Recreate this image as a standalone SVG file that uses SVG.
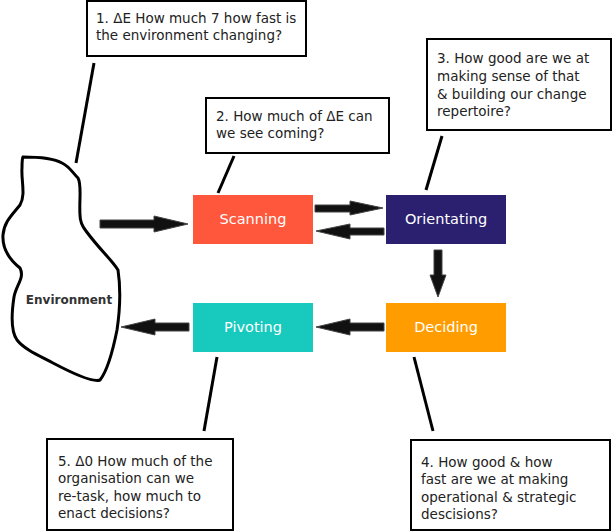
<svg xmlns="http://www.w3.org/2000/svg" width="613" height="532" viewBox="0 0 613 532">
<defs>
<style>
.box{fill:#fff;stroke:#000;stroke-width:2}
.q{font-family:"DejaVu Sans","Noto Sans",sans-serif;font-size:13.5px;fill:#222}
.lbl{font-family:"DejaVu Sans","Noto Sans",sans-serif;font-size:14.5px;fill:#fff;text-anchor:middle}
.lead{stroke:#000;stroke-width:3;fill:none}
.arr{fill:#111;stroke:#444;stroke-width:1}
</style>
</defs>
<rect width="613" height="532" fill="#fff"/>
<g id="environment">
<path d="M23,157 C40,157 55,159 62,163 C70,167 72,172 78,178 C82,185 79,200 80,215 C80,222 82,226 86,231 C100,250 112,260 118,270 C121,290 120,310 117,330 C113,350 108,370 100,380 C92,383 70,372 53,363 C40,356 25,350 17,340 C10,330 12,310 14,297 C16,285 25,278 20,268 C10,260 2,250 3,235 C4,222 12,215 20,205 C26,195 21,180 22,168 C22,162 22,159 23,157 Z" fill="none" stroke="#000" stroke-width="3"/>
<text x="69" y="304" font-family="'DejaVu Sans','Noto Sans',sans-serif" font-size="12" font-weight="bold" fill="#333" text-anchor="middle">Environment</text>
</g>
<g id="q1">
<rect class="box" x="87" y="1" width="219" height="55"/>
<text class="q" x="96" y="23">1. ΔE How much 7 how fast is</text>
<text class="q" x="96" y="40">the environment changing?</text>
</g>
<g id="q2">
<rect class="box" x="206" y="98" width="183" height="55"/>
<text class="q" x="216" y="121">2. How much of ΔE can</text>
<text class="q" x="216" y="138">we see coming?</text>
</g>
<g id="q3">
<rect class="box" x="427" y="39" width="184" height="91"/>
<text class="q" x="437" y="63">3. How good are we at</text>
<text class="q" x="437" y="81">making sense of that</text>
<text class="q" x="437" y="99">&amp; building our change</text>
<text class="q" x="437" y="116">repertoire?</text>
</g>
<g id="q4">
<rect class="box" x="411" y="440" width="199" height="90"/>
<text class="q" x="421" y="467">4. How good &amp; how</text>
<text class="q" x="421" y="484">fast are we at making</text>
<text class="q" x="421" y="502">operational &amp; strategic</text>
<text class="q" x="421" y="519">descisions?</text>
</g>
<g id="q5">
<rect class="box" x="47" y="439" width="186" height="91"/>
<text class="q" x="58" y="466">5. Δ0 How much of the</text>
<text class="q" x="58" y="483">organisation can we</text>
<text class="q" x="58" y="501">re-task, how much to</text>
<text class="q" x="58" y="518">enact decisions?</text>
</g>
<g id="scanning">
<rect x="193" y="195" width="120" height="49" fill="#FF573B"/>
<text class="lbl" x="253" y="224">Scanning</text>
</g>
<g id="orientating">
<rect x="386" y="195" width="120" height="49" fill="#2B1F70"/>
<text class="lbl" x="446" y="224">Orientating</text>
</g>
<g id="deciding">
<rect x="386" y="303" width="120" height="49" fill="#FF9D00"/>
<text class="lbl" x="446" y="332">Deciding</text>
</g>
<g id="pivoting">
<rect x="193" y="303" width="120" height="49" fill="#17CABD"/>
<text class="lbl" x="253" y="332">Pivoting</text>
</g>
<g id="connectors">
<line class="lead" x1="94" y1="63" x2="76" y2="163"/>
<line class="lead" x1="234" y1="156" x2="218" y2="193"/>
<line class="lead" x1="442" y1="136" x2="426" y2="190"/>
<line class="lead" x1="217" y1="357" x2="204" y2="431"/>
<line class="lead" x1="414" y1="357" x2="433" y2="431"/>
<polygon class="arr" points="100,220 154,220 154,216 188,224 154,232 154,228 100,228"/>
<polygon class="arr" points="315,205 350,205 350,201 383,208 350,215 350,212 315,212"/>
<polygon class="arr" points="384,228 350,228 350,224 316,231 350,239 350,235 384,235"/>
<polygon class="arr" points="434,250 442,250 442,275 446,275 438,297 430,275 434,275"/>
<polygon class="arr" points="384,323 350,323 350,319 316,327 350,335 350,331 384,331"/>
<polygon class="arr" points="189,323 155,323 155,319 121,327 155,335 155,331 189,331"/>
</g>
</svg>
